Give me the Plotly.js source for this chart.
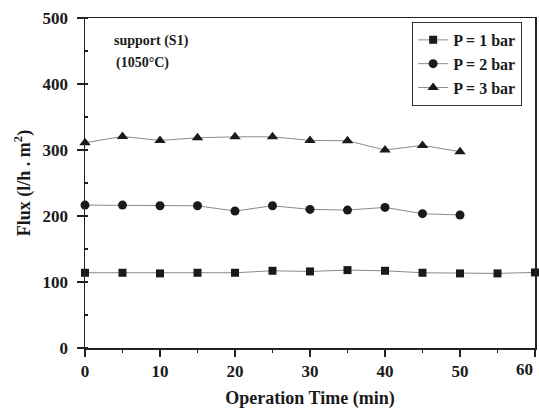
<!DOCTYPE html>
<html><head><meta charset="utf-8">
<script src="https://cdn.plot.ly/plotly-3.0.1.min.js"></script>
<style>body{margin:0;background:#fff}#chart{width:539px;height:409px}</style>
</head><body><div id="chart"></div>
<script>
const timeP1 = [0,5,10,15,20,25,30,35,40,45,50,55,60];
const fluxP1 = [114,114,113,114,114,117,116,118,117,114,113,113,114.5];
const timeP2 = [0,5,10,15,20,25,30,35,40,45,50];
const fluxP2 = [216.5,216.5,215.5,215.5,207.5,215.5,210,209,213,203.5,201.5];
const timeP3 = [0,5,10,15,20,25,30,35,40,45,50];
const fluxP3 = [311,320.5,314.5,318.5,320,320,314.5,314,300,307,297.5];
const seriesNames = ['P = 1 bar','P = 2 bar','P = 3 bar'];
const xTickVals = [0,10,20,30,40,50,60];
const xTickLabels = ['0','10','20','30','40','50','60'];

const FONT = 'Liberation Serif, Times New Roman, serif';
const INK = '#1a1a1a';
const lineStyle = {color:'#8a8a8a', width:1};
const lastIdx = xTickLabels.length - 1;
// the last label is drawn right-aligned to its tick (as in the reference) so it stays on the page
const xTickText = xTickLabels.map((t,i)=> i===lastIdx ? '' : t);
const tickFont = {family:FONT, size:17, weight:'bold', color:INK};
const traces = [
  {x:timeP1, y:fluxP1, name:seriesNames[0], mode:'lines+markers', line:lineStyle,
   marker:{symbol:'square', size:8, color:INK}, cliponaxis:false},
  {x:timeP2, y:fluxP2, name:seriesNames[1], mode:'lines+markers', line:lineStyle,
   marker:{symbol:'circle', size:9, color:INK}, cliponaxis:false},
  {x:timeP3, y:fluxP3, name:seriesNames[2], mode:'lines+markers', line:lineStyle,
   marker:{symbol:'triangle-up', size:10, color:INK}, cliponaxis:false}
];
const layout = {
  width:539, height:409,
  margin:{l:85, r:4, t:18, b:61},
  paper_bgcolor:'#fff', plot_bgcolor:'#fff',
  font:{family:FONT, color:INK},
  showlegend:true,
  legend:{x:0.727, y:0.988, xanchor:'left', yanchor:'top',
    bordercolor:'#333', borderwidth:1, bgcolor:'#fff',
    font:{family:FONT, size:16, weight:'bold', color:INK},
    tracegroupgap:0, itemwidth:30},
  xaxis:{range:[0,60], showgrid:false, zeroline:false,
    showline:true, linecolor:'#222', linewidth:1.5, mirror:true,
    ticks:'outside', ticklen:7, tickwidth:1.5, tickcolor:'#222',
    tickmode:'array', tickvals:xTickVals, ticktext:xTickText,
    minor:{ticks:'outside', ticklen:3, tickwidth:1.2, tickcolor:'#222', tickmode:'linear', tick0:0, dtick:5},
    tickfont:tickFont,
    title:{text:'Operation Time (min)', standoff:12,
      font:{family:FONT, size:18, weight:'bold', color:INK}}},
  yaxis:{range:[0,500], showgrid:false, zeroline:false,
    showline:true, linecolor:'#222', linewidth:1.5, mirror:true,
    ticks:'outside', ticklen:7, tickwidth:1.5, tickcolor:'#222',
    tick0:0, dtick:100, ticklabeloverflow:'allow', ticklabelstandoff:5,
    minor:{ticks:'inside', ticklen:3, tickwidth:1.2, tickcolor:'#222', dtick:50},
    tickfont:tickFont,
    title:{text:'Flux (l/h . m<sup>2</sup>)', standoff:7,
      font:{family:FONT, size:18, weight:'bold', color:INK}}},
  annotations:[
    {xref:'paper', yref:'paper', x:0.06, y:0.93, xanchor:'left', yanchor:'middle',
     text:'support (S1)', showarrow:false,
     font:{family:FONT, size:14, weight:'bold', color:INK}},
    {xref:'paper', yref:'paper', x:0.065, y:0.865, xanchor:'left', yanchor:'middle',
     text:'(1050°C)', showarrow:false,
     font:{family:FONT, size:14, weight:'bold', color:INK}},
    {xref:'x', yref:'paper', x:xTickVals[lastIdx], y:-0.064, xanchor:'right', yanchor:'middle',
     text:xTickLabels[lastIdx], showarrow:false, font:tickFont}
  ]
};
Plotly.newPlot('chart', traces, layout, {displayModeBar:false, staticPlot:true});
</script></body></html>
